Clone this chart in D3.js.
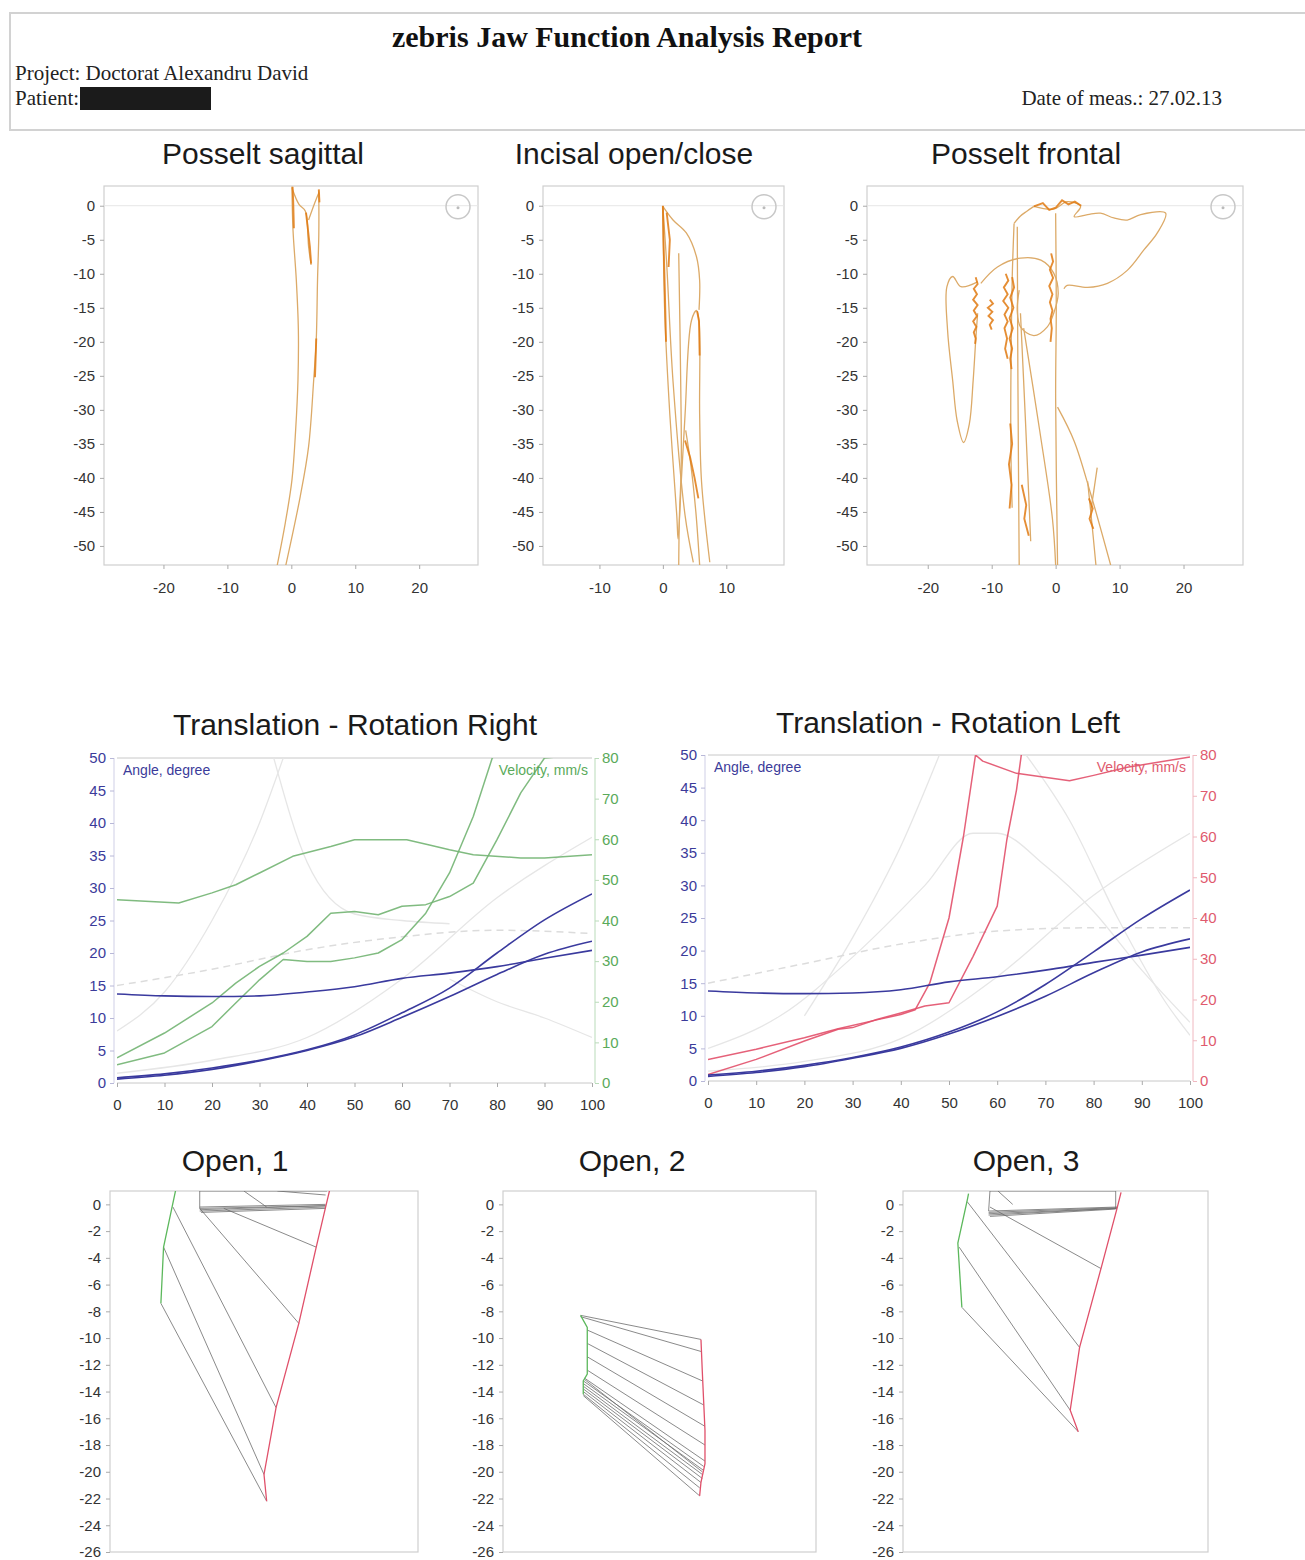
<!DOCTYPE html>
<html>
<head>
<meta charset="utf-8">
<script src="https://cdn.jsdelivr.net/npm/d3@7"></script>
<style>
body { margin: 0; background: #fff; }
</style>
</head>
<body>
<div id="chart"></div>
<script>
// ---------- data ----------
// Posselt sagittal traces [x mm, y mm]
var sagThin = [
    [[0.1,2.8],[0.26,-3.5],[0.78,-10.9],[1.1,-18.2],[1.04,-25.6],[0.68,-32.9],[0.1,-40.3],[-0.94,-46.6],[-2.24,-53]],
    [[4.3,2.1],[4.3,-4.2],[4.1,-10.9],[3.9,-19.7],[3.5,-25.6],[2.7,-35.4],[1.4,-42.7],[-0.9,-53]],
    [[0.1,2.6],[1.2,0.2],[2.2,-0.8],[2.7,-6],[3.1,-8.7]],
    [[2.7,-2.1],[3.5,0],[4.3,1.9]]
];
var sagThick = [
    [[0.2,2.8],[0.3,0.5],[0.4,-3.3]],
    [[2.3,-1],[2.9,-6],[3.1,-8.5]],
    [[3.9,-19.5],[3.8,-22.5],[3.7,-25.2]],
    [[4.3,2.4],[4.4,0.5]]
];

// Incisal open/close traces
var incThin = [
    [[0,-0.1],[0.3,-15.9],[1.1,-30.7],[2.2,-45.6],[2.4,-49],[2.9,-40.6],[3.5,-30.7],[4.5,-16.9],[5.3,-15.4],[5.7,-16.9],[5.8,-30.7],[6.1,-40.6],[7.4,-52.4]],
    [[0,-0.1],[0.6,-8.5],[1.6,-25.8],[3.5,-45.5],[4.8,-52.4]],
    [[0,-0.1],[1.6,-2.1],[3.7,-4],[5.3,-7.5],[5.8,-11],[5.7,-15.3]],
    [[2.5,-7],[2.8,-25],[2.9,-38],[2.6,-46],[2.5,-53]],
    [[3.6,-33],[4.4,-38],[5.2,-45],[5.8,-52.8]]
];
var incThick = [
    [[0,0],[0.1,-5],[0.3,-12],[0.5,-20]],
    [[3.5,-34.5],[4.3,-37],[5,-40],[5.6,-43]],
    [[5.4,-15.5],[5.7,-17],[5.8,-22]],
    [[0.6,-1],[1.1,-5],[0.9,-9]]
];

// Posselt frontal traces
var froThin = [
    [[-3.4,-0.1],[-0.3,-0.5],[1.8,0.6],[3.9,-0.1],[2.9,-1.6],[5,-1.3],[7,-1.1],[9.1,-1.8],[11.2,-2.1],[13.3,-1.3],[17.2,-1.1],[15.9,-4],[13.8,-6.5],[11.2,-9.5],[8.1,-11.4],[5,-12],[1.8,-11.7],[1.3,-12.2]],
    [[-11.7,-11.4],[-9.1,-9],[-5.5,-7.7],[-2.3,-8],[-0.3,-9.9],[0.4,-12.9],[-0.3,-15.8],[-1.3,-17.8],[-3.4,-19.1],[-5.5,-17.8],[-6,-15.4],[-5.7,-12.4]],
    [[-12.2,-11.2],[-14.8,-11.9],[-16.1,-10.4],[-17,-11.9],[-16.9,-18.3],[-16.1,-25.7],[-15.4,-31.6],[-14.4,-34.8],[-13.5,-32.1],[-12.9,-25.7],[-12.5,-19.8],[-12.2,-15.8]],
    [[-6.5,-2.6],[-6.8,-10.9],[-7,-25.7],[-7,-35.6],[-6.8,-44.4]],
    [[-6,-3.1],[-5.9,-25.7],[-5.7,-52.8]],
    [[-5.5,-15.8],[-4.7,-32],[-3.9,-49.3]],
    [[0,-1.1],[0.1,-15],[0,-28.2],[0.3,-52.8]],
    [[-5,-18],[-2.5,-33],[-0.5,-46],[0,-52.8]],
    [[0.3,-29.6],[2.9,-34.6],[5.5,-42.4],[8.6,-52.8]],
    [[5,-40.5],[5.6,-46],[6.3,-52.8]],
    [[5.5,-44.9],[6.5,-38.5]],
    [[-6.5,-2.6],[-5.5,-1.5],[-4.5,-0.8],[-3.4,-0.1]]
];
var froThick = [
    [[-12.5,-10.5],[-12.2,-11.5],[-12.8,-12.2],[-12.3,-13],[-12.9,-13.8],[-12.2,-14.6],[-12.8,-15.4],[-12.3,-16.2],[-12.9,-17],[-12.4,-17.8],[-12.8,-18.6],[-12.5,-19.5],[-12.6,-20.3]],
    [[-10.3,-13.8],[-9.8,-14.4],[-10.6,-15],[-9.9,-15.6],[-10.5,-16.2],[-9.8,-16.8],[-10.3,-17.5],[-10,-18.2]],
    [[-7.8,-10],[-7.4,-11],[-8.1,-12],[-7.5,-13],[-8.2,-14],[-7.4,-15],[-8,-16],[-7.5,-17],[-8,-18],[-7.6,-19.5],[-7.9,-21],[-7.5,-22.5]],
    [[-6.8,-10.5],[-6.5,-12],[-7.1,-13.5],[-6.6,-15],[-7.2,-16.5],[-6.7,-18],[-7.2,-19.5],[-6.8,-21],[-7.1,-22.5],[-6.9,-24]],
    [[-0.7,-7],[-0.4,-8.2],[-0.9,-9.4],[-0.4,-10.6],[-1,-11.8],[-0.5,-13],[-0.9,-14.2],[-0.5,-15.4],[-0.8,-16.6],[-0.6,-18],[-0.8,-20]],
    [[-3.4,-0.1],[-2,0.4],[-1,-0.6],[0,-0.3],[1,0.8],[2,0.2],[3,0.6],[4,0]],
    [[-7.1,-32],[-6.8,-35],[-7.3,-38],[-6.9,-41],[-7.2,-44.5]],
    [[-5.3,-41],[-4.6,-44],[-4.9,-46],[-4.2,-48.5]],
    [[5.2,-43],[5.8,-44.5],[5.3,-46],[5.9,-47.5]]
];

var posseltYTicks = [0,-5,-10,-15,-20,-25,-30,-35,-40,-45,-50];

// Translation - rotation: angle (degree) at 0..100 %
var pct = [0,10,20,30,40,50,60,70,80,90,100];
var rightAngleA = [0.8,1.4,2.3,3.5,5.1,7.4,10.8,14.6,20,25.1,29.1];
var rightAngleB = [0.6,1.2,2.1,3.4,5.0,7.1,10.1,13.3,16.7,19.8,21.8];
var rightAngleC = [13.7,13.4,13.3,13.4,14.0,14.8,16.1,16.9,17.9,19.2,20.4];
var leftAngleA = [0.9,1.5,2.4,3.6,5.2,7.5,10.6,14.8,19.8,24.9,29.3];
var leftAngleB = [0.7,1.3,2.2,3.5,5.0,7.2,9.9,13.0,16.6,19.8,21.8];
var leftAngleC = [13.8,13.5,13.4,13.5,14.0,15.2,16.0,17.0,18.2,19.3,20.5];

// velocity (mm/s) [%, value]
var rightVel1 = [[0,45.1],[5,44.8],[13,44.3],[20,46.8],[25,48.8],[30,51.7],[37,55.8],[45,58.2],[50,59.9],[61,59.9],[66,58.5],[70,57.4],[75,56.2],[85,55.4],[90,55.4],[100,56.2]];
var rightVel2 = [[0,6.2],[10,12.3],[20,19.7],[25,24.6],[30,28.7],[35,32],[40,36.1],[45,41.8],[50,42.2],[55,41.4],[60,43.5],[65,43.9],[70,45.9],[75,49.2],[80,59.9],[85,71.4],[90,80],[95,80.5]];
var rightVel3 = [[0,4.5],[10,7.4],[20,13.9],[25,19.7],[30,25.4],[35,30.4],[40,29.9],[45,29.9],[50,30.8],[55,32],[60,35.3],[65,41.8],[70,51.7],[75,65.6],[79,80],[81,82]];
var leftVelA = [[0,5.3],[10,7.8],[20,10.6],[27,12.8],[35,15],[40,16.3],[43,17.5],[46,24],[50,40],[53,60],[55.5,80],[57,78.5],[64,75.5],[75,73.7],[80,75],[87,77],[100,79.5]];
var leftVelB = [[0,1.6],[10,5.3],[20,9.8],[27,12.7],[30,13.1],[35,15.1],[40,16.7],[45,18.4],[50,19.2],[55,30.6],[60,42.9],[62,59.2],[64,71.4],[65,80],[66,84]];

// faint background curves (angle scale) [%, value]
var rightFaint = [
    [[0,1.5],[20,3.5],[40,7],[60,16],[80,28.5],[100,37.8]],
    [[0,8],[10,14],[20,25],[30,40],[35,50]],
    [[33,50],[40,34],[50,26],[60,25],[70,24.5]],
    [[70,16],[80,12.5],[90,10],[100,7]]
];
var rightDashed = [[0,15],[20,17.5],[40,20.5],[60,22.5],[80,23.5],[100,23]];
var leftFaint = [
    [[0,1.5],[20,3],[40,6.5],[60,16],[80,28.5],[100,38]],
    [[0,5],[15,10],[30,19],[45,30],[55,38],[60,38],[70,33],[80,26],[90,17],[100,9]],
    [[20,10],[30,22],[40,36],[48,50]],
    [[66,50],[75,40],[85,25],[95,12],[100,7]]
];
var leftDashed = [[0,15],[20,18],[40,21],[60,23],[80,23.5],[100,23.5]];

var angleTicks = [0,5,10,15,20,25,30,35,40,45,50];
var velTicks = [0,10,20,30,40,50,60,70,80];
var pctTicks = [0,10,20,30,40,50,60,70,80,90,100];

// Open charts: green (left) path, red (right) path, grey links [x1,y1,x2,y2]
var open1Green = [[-6.6,1.05],[-7.5,-3.2],[-7.7,-7.4]];
var open1Red = [[4.9,1.05],[4.6,-0.2],[3.9,-3.2],[2.6,-8.9],[0.9,-15.2],[0,-20.2],[0.2,-22.2]];
var open1Links = [
    [-7.7,-7.4,0.2,-22.2],[-7.5,-3.2,0.0,-20.2],[-6.8,-0.2,0.9,-15.2],[-4.8,-0.3,2.6,-8.9],
    [-3.0,-0.3,3.9,-3.2],[-4.8,-0.2,4.6,0.0],[-4.8,-0.3,4.6,-0.1],[-4.8,-0.4,4.6,-0.1],
    [-4.8,-0.5,4.6,-0.2],[-4.7,-0.6,4.6,-0.3],[-4.8,1.0,4.7,1.0],[-4.8,1.0,-4.8,-0.3],
    [-1.5,1.0,0.2,-0.2],[1.0,1.0,4.6,0.7]
];
var open2Green = [[-5.9,-8.3],[-5.4,-9.2],[-5.4,-12.7],[-5.7,-13.2],[-5.7,-14.2]];
var open2Red = [[3.1,-10.1],[3.2,-12.5],[3.3,-14.7],[3.4,-16.9],[3.4,-19.4],[3.1,-20.8],[3.0,-21.8]];
var open2Links = [
    [-5.9,-8.3,3.1,-10.1],[-5.9,-8.4,3.1,-11.0],[-5.4,-9.4,3.2,-13.2],[-5.4,-10.4,3.3,-15.0],
    [-5.4,-11.4,3.4,-16.6],[-5.4,-12.4,3.4,-18.0],[-5.6,-13.0,3.4,-19.2],[-5.6,-13.1,3.2,-20.0],
    [-5.7,-13.2,3.3,-19.6],[-5.7,-13.4,3.3,-19.9],[-5.7,-13.6,3.2,-20.2],[-5.7,-13.8,3.2,-20.5],
    [-5.7,-14.0,3.1,-20.8],[-5.7,-14.2,3.0,-21.2],[-5.7,-14.3,3.0,-21.8]
];
var open3Green = [[-6.5,0.8],[-6.6,0.3],[-7.3,-2.9],[-7.0,-7.7]];
var open3Red = [[4.9,0.9],[4.6,-0.3],[3.4,-4.8],[1.8,-10.7],[1.1,-15.4],[1.7,-17]];
var open3Links = [
    [-7.0,-7.7,1.7,-17],[-7.2,-3.2,1.1,-15.4],[-6.6,0.2,1.8,-10.7],[-4.9,-0.2,3.4,-4.8],
    [-5,-0.5,4.6,-0.2],[-5,-0.6,4.6,-0.25],[-5,-0.7,4.6,-0.3],[-5,-0.8,4.6,-0.3],[-4.9,-0.9,4.5,-0.35],
    [-4.9,1.0,4.5,1.0],[-4.9,1.0,-5,-0.5],[-4.3,1.0,-3.2,0.0],[4.5,1.0,4.5,-0.3]
];
var openYTicks = [0,-2,-4,-6,-8,-10,-12,-14,-16,-18,-20,-22,-24,-26];

// ---------- drawing ----------
var FONT = '"Liberation Sans", Arial, sans-serif';
var SERIF = '"Liberation Serif", "Times New Roman", serif';

var svg = d3.select("#chart").append("svg")
    .attr("width", 1305)
    .attr("height", 1560);
var defs = svg.append("defs");

function styleAxis(g, color, tickColor) {
    g.select(".domain").remove();
    g.selectAll(".tick line").attr("stroke", tickColor || "#aaa");
    g.selectAll(".tick text")
        .attr("fill", color)
        .attr("font-size", 15)
        .attr("font-family", FONT);
}

function clip(id, x0, y0, w, h) {
    defs.append("clipPath").attr("id", id)
        .append("rect").attr("x", x0).attr("y", y0).attr("width", w).attr("height", h);
}

function title(text, cx, y) {
    svg.append("text")
        .attr("x", cx).attr("y", y)
        .attr("text-anchor", "middle")
        .attr("font-family", FONT)
        .attr("font-size", 30)
        .attr("fill", "#1a1a1a")
        .text(text);
}

// header
svg.append("rect")
    .attr("x", 10).attr("y", 13).attr("width", 1300).attr("height", 117)
    .attr("fill", "none").attr("stroke", "#d2d2d2").attr("stroke-width", 2);
svg.append("text")
    .attr("x", 627).attr("y", 47)
    .attr("text-anchor", "middle")
    .attr("font-family", SERIF).attr("font-weight", "bold").attr("font-size", 30)
    .attr("fill", "#111")
    .text("zebris Jaw Function Analysis Report");
svg.append("text")
    .attr("x", 15).attr("y", 80)
    .attr("font-family", SERIF).attr("font-size", 21).attr("fill", "#222")
    .text("Project: Doctorat Alexandru David");
svg.append("text")
    .attr("x", 15).attr("y", 105)
    .attr("font-family", SERIF).attr("font-size", 21).attr("fill", "#222")
    .text("Patient:");
svg.append("rect")
    .attr("x", 80).attr("y", 87).attr("width", 131).attr("height", 23)
    .attr("fill", "#1b1b1b");
svg.append("text")
    .attr("x", 1222).attr("y", 105)
    .attr("text-anchor", "end")
    .attr("font-family", SERIF).attr("font-size", 21).attr("fill", "#222")
    .text("Date of meas.: 27.02.13");

// Posselt panels
var posseltLayouts = [
    { id: "p1", title: "Posselt sagittal", x0: 104, x1: 478, xd: [-29.3, 29.2], xTicks: [-20,-10,0,10,20], titleX: 263, thin: sagThin, thick: sagThick },
    { id: "p2", title: "Incisal open/close", x0: 543, x1: 784, xd: [-18.9, 19.1], xTicks: [-10,0,10], titleX: 634, thin: incThin, thick: incThick },
    { id: "p3", title: "Posselt frontal", x0: 867, x1: 1243, xd: [-29.5, 29.3], xTicks: [-20,-10,0,10,20], titleX: 1026, thin: froThin, thick: froThick }
];

posseltLayouts.forEach(function (lay) {
    var top = 186, bottom = 565;
    var x = d3.scaleLinear().domain(lay.xd).range([lay.x0, lay.x1]);
    var y = d3.scaleLinear().domain([-52.8, 2.9]).range([bottom, top]);

    title(lay.title, lay.titleX, 164);

    svg.append("rect")
        .attr("x", lay.x0).attr("y", top)
        .attr("width", lay.x1 - lay.x0).attr("height", bottom - top)
        .attr("fill", "none").attr("stroke", "#cfcfcf").attr("stroke-width", 1.2);
    svg.append("line")
        .attr("x1", lay.x0).attr("x2", lay.x1)
        .attr("y1", y(0)).attr("y2", y(0))
        .attr("stroke", "#e6e6e6");

    var ya = svg.append("g")
        .attr("transform", `translate(${lay.x0}, 0)`)
        .call(d3.axisLeft(y).tickValues(posseltYTicks).tickSize(4).tickPadding(5).tickFormat(d => String(d)));
    styleAxis(ya, "#333");

    var xa = svg.append("g")
        .attr("transform", `translate(0, ${bottom})`)
        .call(d3.axisBottom(x).tickValues(lay.xTicks).tickSize(4).tickPadding(13).tickFormat(d => String(d)));
    styleAxis(xa, "#333");

    // small face icon top right
    var icx = lay.x1 - 20, icy = y(0) + 1;
    svg.append("circle").attr("cx", icx).attr("cy", icy).attr("r", 12)
        .attr("fill", "none").attr("stroke", "#c8c8c8").attr("stroke-width", 1.5);
    svg.append("circle").attr("cx", icx).attr("cy", icy + 1).attr("r", 1.5).attr("fill", "#bbb");

    clip("clip-" + lay.id, lay.x0, top, lay.x1 - lay.x0, bottom - top);
    var plot = svg.append("g").attr("clip-path", `url(#clip-${lay.id})`);

    var smooth = d3.line().x(d => x(d[0])).y(d => y(d[1])).curve(d3.curveCatmullRom.alpha(0.5));
    var sharp = d3.line().x(d => x(d[0])).y(d => y(d[1]));

    plot.selectAll(".thin").data(lay.thin).enter().append("path")
        .attr("d", smooth)
        .attr("fill", "none")
        .attr("stroke", "#dcaa68")
        .attr("stroke-width", 1.3);
    plot.selectAll(".thick").data(lay.thick).enter().append("path")
        .attr("d", sharp)
        .attr("fill", "none")
        .attr("stroke", "#e07a12")
        .attr("stroke-width", 1.9)
        .attr("opacity", 0.85);
});

// Translation - rotation panels
var transLayouts = [
    { id: "t1", title: "Translation - Rotation Right", titleX: 355, titleY: 735, x0: 117, x1: 592, yt: 758, yb: 1083,
      angles: [rightAngleA, rightAngleB, rightAngleC], vels: [rightVel1, rightVel2, rightVel3],
      faint: rightFaint, dashed: rightDashed, velColor: "#72b472", velText: "#5aaa5a", axisCol: "#b9dbb9" },
    { id: "t2", title: "Translation - Rotation Left", titleX: 948, titleY: 733, x0: 708, x1: 1190, yt: 755, yb: 1081,
      angles: [leftAngleA, leftAngleB, leftAngleC], vels: [leftVelA, leftVelB],
      faint: leftFaint, dashed: leftDashed, velColor: "#e2506a", velText: "#e05a6e", axisCol: "#f0b8c0" }
];

transLayouts.forEach(function (lay) {
    var x = d3.scaleLinear().domain([0, 100]).range([lay.x0, lay.x1]);
    var yl = d3.scaleLinear().domain([0, 50]).range([lay.yb, lay.yt]);
    var yr = d3.scaleLinear().domain([0, 80]).range([lay.yb, lay.yt]);

    title(lay.title, lay.titleX, lay.titleY);

    // frame
    svg.append("line").attr("x1", lay.x0).attr("x2", lay.x1).attr("y1", lay.yt).attr("y2", lay.yt)
        .attr("stroke", "#c8c8c8");
    svg.append("line").attr("x1", lay.x0).attr("x2", lay.x1).attr("y1", lay.yb).attr("y2", lay.yb)
        .attr("stroke", "#c8c8c8");
    svg.append("line").attr("x1", lay.x0 - 3).attr("x2", lay.x0 - 3).attr("y1", lay.yt).attr("y2", lay.yb)
        .attr("stroke", "#cfcfe6");
    svg.append("line").attr("x1", lay.x1 + 3).attr("x2", lay.x1 + 3).attr("y1", lay.yt).attr("y2", lay.yb)
        .attr("stroke", lay.axisCol);

    var la = svg.append("g")
        .attr("transform", `translate(${lay.x0 - 3}, 0)`)
        .call(d3.axisLeft(yl).tickValues(angleTicks).tickSize(4).tickPadding(4));
    styleAxis(la, "#3b3b9a", "#b8b8d8");

    var ra = svg.append("g")
        .attr("transform", `translate(${lay.x1 + 3}, 0)`)
        .call(d3.axisRight(yr).tickValues(velTicks).tickSize(4).tickPadding(3));
    styleAxis(ra, lay.velText, lay.axisCol);

    var ba = svg.append("g")
        .attr("transform", `translate(0, ${lay.yb})`)
        .call(d3.axisBottom(x).tickValues(pctTicks).tickSize(4).tickPadding(12));
    styleAxis(ba, "#333");

    clip("clip-" + lay.id, lay.x0, lay.yt, lay.x1 - lay.x0, lay.yb - lay.yt);
    var plot = svg.append("g").attr("clip-path", `url(#clip-${lay.id})`);

    var faintLine = d3.line().x(d => x(d[0])).y(d => yl(d[1])).curve(d3.curveMonotoneX);
    plot.selectAll(".faint").data(lay.faint).enter().append("path")
        .attr("d", faintLine)
        .attr("fill", "none")
        .attr("stroke", "#e6e6e6")
        .attr("stroke-width", 1.3);
    plot.append("path")
        .datum(lay.dashed)
        .attr("d", faintLine)
        .attr("fill", "none")
        .attr("stroke", "#dcdcdc")
        .attr("stroke-width", 1.5)
        .attr("stroke-dasharray", "7,5");

    var velLine = d3.line().x(d => x(d[0])).y(d => yr(d[1]));
    plot.selectAll(".vel").data(lay.vels).enter().append("path")
        .attr("d", velLine)
        .attr("fill", "none")
        .attr("stroke", lay.velColor)
        .attr("stroke-width", 1.5)
        .attr("stroke-linejoin", "round")
        .attr("opacity", 0.9);

    var angLine = d3.line().x((d, i) => x(pct[i])).y(d => yl(d)).curve(d3.curveMonotoneX);
    plot.selectAll(".ang").data(lay.angles).enter().append("path")
        .attr("d", angLine)
        .attr("fill", "none")
        .attr("stroke", "#3a3a9e")
        .attr("stroke-width", 1.6);

    svg.append("text")
        .attr("x", lay.x0 + 6).attr("y", lay.yt + 17)
        .attr("font-family", FONT).attr("font-size", 14)
        .attr("fill", "#3b3b9a")
        .text("Angle, degree");
    svg.append("text")
        .attr("x", lay.x1 - 4).attr("y", lay.yt + 17)
        .attr("text-anchor", "end")
        .attr("font-family", FONT).attr("font-size", 14)
        .attr("fill", lay.velText)
        .text("Velocity, mm/s");
});

// Open panels
var openLayouts = [
    { id: "o1", title: "Open, 1", titleX: 235, x0: 110, x1: 418, xd: [-11.5, 11.5], green: open1Green, red: open1Red, links: open1Links },
    { id: "o2", title: "Open, 2", titleX: 632, x0: 503, x1: 816, xd: [-11.7, 11.7], green: open2Green, red: open2Red, links: open2Links },
    { id: "o3", title: "Open, 3", titleX: 1026, x0: 903, x1: 1208, xd: [-11.4, 11.4], green: open3Green, red: open3Red, links: open3Links }
];

openLayouts.forEach(function (lay) {
    var top = 1191, bottom = 1552;
    var x = d3.scaleLinear().domain(lay.xd).range([lay.x0, lay.x1]);
    var y = d3.scaleLinear().domain([-26, 1]).range([bottom, top]);

    title(lay.title, lay.titleX, 1171);

    svg.append("rect")
        .attr("x", lay.x0).attr("y", top)
        .attr("width", lay.x1 - lay.x0).attr("height", bottom - top)
        .attr("fill", "none").attr("stroke", "#cfcfcf").attr("stroke-width", 1.2);

    var ya = svg.append("g")
        .attr("transform", `translate(${lay.x0}, 0)`)
        .call(d3.axisLeft(y).tickValues(openYTicks).tickSize(4).tickPadding(5).tickFormat(d => String(d)));
    styleAxis(ya, "#333");

    clip("clip-" + lay.id, lay.x0, top, lay.x1 - lay.x0, bottom - top);
    var plot = svg.append("g").attr("clip-path", `url(#clip-${lay.id})`);

    plot.selectAll(".link").data(lay.links).enter().append("line")
        .attr("x1", d => x(d[0])).attr("y1", d => y(d[1]))
        .attr("x2", d => x(d[2])).attr("y2", d => y(d[3]))
        .attr("stroke", "#6e6e6e")
        .attr("stroke-width", 1)
        .attr("opacity", 0.8);

    var path = d3.line().x(d => x(d[0])).y(d => y(d[1]));
    plot.append("path").datum(lay.green)
        .attr("d", path).attr("fill", "none")
        .attr("stroke", "#5cb85c").attr("stroke-width", 1.3);
    plot.append("path").datum(lay.red)
        .attr("d", path).attr("fill", "none")
        .attr("stroke", "#e0506a").attr("stroke-width", 1.3);
});
</script>
</body>
</html>
